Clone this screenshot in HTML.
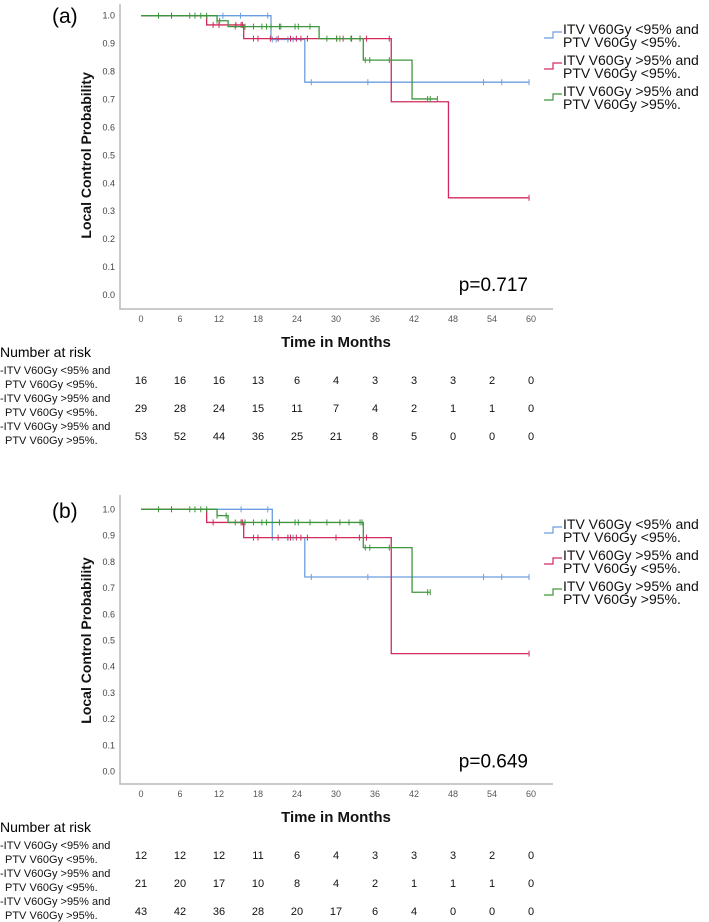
<!DOCTYPE html>
<html><head><meta charset="utf-8"><style>
html,body{margin:0;padding:0;background:#fff;}
svg{display:block;font-family:"Liberation Sans",sans-serif;}
</style></head><body>
<svg id="s" width="709" height="922" viewBox="0 0 709 922"></svg>
<script>
const xTicks=[0,6,12,18,24,30,36,42,48,54,60];
const yTicks=[0,0.1,0.2,0.3,0.4,0.5,0.6,0.7,0.8,0.9,1.0];
const seriesNames=["ITV V60Gy <95% and|PTV V60Gy <95%.","ITV V60Gy >95% and|PTV V60Gy <95%.","ITV V60Gy >95% and|PTV V60Gy >95%."];
const colors=["#6b9ee0","#d22a5c","#3d963d"];
// Panel A
const aBlueT=[0,20,25.2];const aBlueV=[1,0.915,0.762];const aBlueEnd=59.7;
const aBlueC=[12.6,15.3,19.5,20.2,20.8,22.6,23.4,26.2,34.9,52.7,55.5,59.7];
const aRedT=[0,10.1,15.8,38.5,47.3];const aRedV=[1,0.967,0.918,0.692,0.348];const aRedEnd=59.7;
const aRedC=[4.7,11.1,12.0,14.6,15.4,15.6,17.3,18.0,19.9,21.1,23.0,23.9,24.6,25.6,30.1,31.1,32.4,33.7,34.7,38.2,59.7];
const aGreenT=[0,11.7,13.4,27.4,34.2,41.7];const aGreenV=[1,0.982,0.961,0.918,0.841,0.702];const aGreenEnd=45.6;
const aGreenC=[2.7,7.5,8.3,9.2,10.1,11.7,12.1,14.5,16.0,17.3,18.6,19.3,20.0,21.3,21.5,23.7,24.2,26.0,28.6,30.1,30.6,32.3,33.7,34.5,35.2,38.2,44.1,44.5,45.6];
const aRisk=[[16,16,16,13,6,4,3,3,3,2,0],[29,28,24,15,11,7,4,2,1,1,0],[53,52,44,36,25,21,8,5,0,0,0]];
// Panel B
const bBlueT=[0,20.2,25.2];const bBlueV=[1,0.892,0.742];const bBlueEnd=59.7;
const bBlueC=[15.4,19.5,20.2,22.6,23.4,26.2,34.9,52.7,55.5,59.7];
const bRedT=[0,10.1,15.8,38.5];const bRedV=[1,0.950,0.892,0.450];const bRedEnd=59.7;
const bRedC=[4.7,11.1,15.4,15.6,17.3,18.0,21.1,22.6,23.0,23.9,24.6,25.6,30.0,33.6,34.7,59.7];
const bGreenT=[0,11.7,13.4,34.2,41.7];const bGreenV=[1,0.976,0.950,0.854,0.684];const bGreenEnd=44.5;
const bGreenC=[2.7,7.5,8.3,9.2,10.1,11.7,13.1,14.5,16.0,17.3,18.6,19.3,21.3,23.7,24.2,26.0,28.6,30.6,32.0,33.7,34.0,34.5,35.2,38.2,44.1,44.5];
const bRisk=[[12,12,12,11,6,4,3,3,3,2,0],[21,20,17,10,8,4,2,1,1,1,0],[43,42,36,28,20,17,6,4,0,0,0]];

const NS="http://www.w3.org/2000/svg";
const svg=document.getElementById('s');
function mk(tag,attrs,parent,txt){const e=document.createElementNS(NS,tag);for(const k in attrs)e.setAttribute(k,attrs[k]);if(txt!==undefined)e.textContent=txt;(parent||svg).appendChild(e);return e;}

function panel(cfg){
  const g=mk('g',{});
  
  
  const X=m=>141+m*6.5;
  const Y=v=>cfg.y0-(cfg.y0-cfg.y1)*v;
  const lbl=mk('text',{x:52,y:cfg.labelY,'font-size':21,fill:'#000'},g,cfg.label);
  
  const ax=mk('path',{d:`M120,${cfg.axTop} L120,${cfg.axBot} L553,${cfg.axBot}`,fill:'none',stroke:'#b8b8b8','stroke-width':1.5},g);
  
  yTicks.forEach(v=>{const t=mk('text',{x:115,y:Y(v)+3,'font-size':9,fill:'#444','text-anchor':'end'},g,v.toFixed(1));
    });
  xTicks.forEach(m=>{const t=mk('text',{x:X(m),y:cfg.axBot+13,'font-size':9,fill:'#555','text-anchor':'middle'},g,String(m));
    });
  const yt=mk('text',{x:0,y:0,'font-size':14,'font-weight':'bold',fill:'#111','text-anchor':'middle',transform:`translate(91,${(cfg.y0+cfg.y1)/2}) rotate(-90)`},g,'Local Control Probability');
  
  const xt=mk('text',{x:336,y:cfg.axBot+38,'font-size':15,'font-weight':'bold',fill:'#111','text-anchor':'middle'},g,'Time in Months');
  
  const pv=mk('text',{x:528,y:cfg.y0-4,'font-size':19,fill:'#000','text-anchor':'end'},g,cfg.p);
  
  cfg.series.forEach((s,i)=>{
    let d=`M${X(s.t[0])},${Y(s.v[0])}`;
    for(let k=1;k<s.t.length;k++){d+=` L${X(s.t[k])},${Y(s.v[k-1])} L${X(s.t[k])},${Y(s.v[k])}`;}
    d+=` L${X(s.end)},${Y(s.v[s.v.length-1])}`;
    const p=mk('path',{d:d,fill:'none',stroke:colors[i],'stroke-width':1.3},g);
    
    s.c.forEach(ct=>{let v=s.v[0];for(let k=0;k<s.t.length;k++){if(s.t[k]<=ct)v=s.v[k];}
      const cm=mk('line',{x1:X(ct),x2:X(ct),y1:Y(v)-3,y2:Y(v)+3,stroke:colors[i],'stroke-width':1},g);
      });
    const ly=cfg.legY+i*31;
    const lg=mk('path',{d:`M544,${ly+3} L553,${ly+3} L553,${ly-3} L562,${ly-3}`,fill:'none',stroke:colors[i],'stroke-width':1.2},g);
    
    const parts=seriesNames[i].split('|');
    const lt=mk('text',{x:563,y:ly-1,'font-size':14,fill:'#111'},g,parts[0]);
    
    const lt2=mk('text',{x:563,y:ly+12,'font-size':14,fill:'#111'},g,parts[1]);
    
  });
  const nr=mk('text',{x:0,y:cfg.riskY,'font-size':14,fill:'#000'},g,'Number at risk');
  
  cfg.risk.forEach((row,i)=>{
    const parts=seriesNames[i].split('|');
    const ry=cfg.riskY+17+i*28;
    const a=mk('text',{x:0,y:ry,'font-size':11,fill:'#111'},g,'-'+parts[0]);
    
    const b=mk('text',{x:5,y:ry+14,'font-size':11,fill:'#111'},g,parts[1]);
    
    row.forEach((n,j)=>{const t=mk('text',{x:X(xTicks[j]),y:ry+10,'font-size':11,fill:'#111','text-anchor':'middle'},g,String(n));
      });
  });
}
panel({name:'panel-a',label:'(a)',labelY:23,y1:15.7,y0:295,axTop:4,axBot:309,p:'p=0.717',legY:35,riskY:357,risk:aRisk,
  series:[{t:aBlueT,v:aBlueV,end:aBlueEnd,c:aBlueC},{t:aRedT,v:aRedV,end:aRedEnd,c:aRedC},{t:aGreenT,v:aGreenV,end:aGreenEnd,c:aGreenC}]});
panel({name:'panel-b',label:'(b)',labelY:518,y1:509.3,y0:771.7,axTop:495,axBot:784,p:'p=0.649',legY:530,riskY:832,risk:bRisk,
  series:[{t:bBlueT,v:bBlueV,end:bBlueEnd,c:bBlueC},{t:bRedT,v:bRedV,end:bRedEnd,c:bRedC},{t:bGreenT,v:bGreenV,end:bGreenEnd,c:bGreenC}]});
</script>
</body></html>
